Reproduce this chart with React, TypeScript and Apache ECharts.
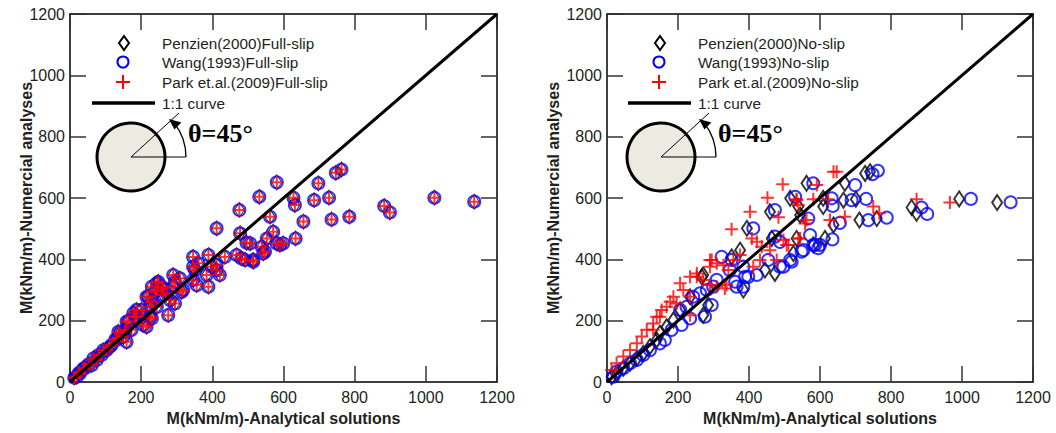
import React, { useEffect, useRef } from "react";
import * as echarts from "echarts";

// Full-slip condition: the three analytical solutions give nearly identical values
const fullSlipPoints: [number, number][] = [
  [12, 14], [19, 17], [25, 30], [28, 28], [38, 45], [42, 45], [52, 58], [61, 55], [66, 77], [75, 72],
  [80, 88], [89, 88], [94, 104], [103, 104], [112, 115], [117, 121], [128, 140], [131, 137], [136, 164],
  [140, 159], [150, 148], [155, 164], [155, 170], [159, 131], [159, 197], [164, 197], [173, 170],
  [178, 224], [183, 213], [187, 235], [187, 213], [201, 235], [206, 213], [206, 186], [215, 180],
  [215, 278], [220, 278], [225, 213], [225, 245], [230, 262], [230, 207], [230, 311], [239, 294],
  [244, 300], [244, 322], [244, 245], [248, 327], [258, 311], [262, 284], [262, 305], [272, 289],
  [276, 218], [281, 267], [290, 311], [290, 349], [295, 256], [295, 327], [309, 338], [314, 294],
  [318, 300], [346, 333], [346, 376], [346, 408], [351, 365], [356, 316], [361, 387], [384, 349],
  [389, 311], [389, 414], [398, 376], [412, 365], [412, 381], [412, 501], [421, 349], [435, 408],
  [468, 414], [476, 561], [478, 485], [482, 403], [492, 398], [496, 454], [506, 452], [515, 398],
  [515, 392], [532, 604], [539, 441], [543, 419], [548, 425], [553, 468], [562, 539], [571, 490],
  [581, 452], [581, 651], [590, 447], [599, 452], [628, 601], [632, 577], [634, 468], [656, 523],
  [686, 593], [698, 648], [728, 601], [735, 530], [747, 682], [763, 693], [785, 539], [883, 574],
  [899, 553], [1024, 601], [1136, 588],
];

// No-slip condition
const penzienNoSlip: [number, number][] = [
  [13, 17], [27, 28], [46, 45], [65, 61], [84, 77], [102, 93], [121, 115], [140, 137], [149, 159],
  [168, 180], [187, 202], [206, 235], [234, 278], [267, 343], [271, 349], [271, 218], [285, 251],
  [351, 408], [375, 430], [384, 300], [394, 501], [445, 365], [459, 555], [464, 468], [473, 354],
  [516, 599], [525, 419], [534, 468], [539, 572], [544, 544], [562, 648], [581, 447], [609, 599],
  [609, 572], [614, 468], [638, 512], [666, 593], [670, 648], [701, 596], [711, 528], [727, 680],
  [741, 686], [760, 533], [858, 569], [872, 550], [992, 597], [1099, 585],
];

const wangNoSlip: [number, number][] = [
  [18, 17], [27, 34], [46, 45], [65, 61], [84, 72], [102, 88], [121, 104], [149, 126], [163, 137],
  [182, 170], [206, 235], [210, 186], [224, 245], [234, 207], [243, 278], [262, 289], [276, 213],
  [281, 300], [295, 251], [299, 311], [309, 333], [323, 408], [346, 365], [351, 398], [361, 327],
  [365, 311], [384, 311], [384, 376], [389, 343], [398, 343], [412, 501], [422, 349], [454, 398],
  [473, 474], [473, 561], [487, 376], [487, 457], [497, 376], [516, 398], [520, 392], [530, 604],
  [548, 425], [553, 430], [567, 533], [572, 479], [581, 648], [581, 447], [586, 447], [595, 436],
  [600, 447], [633, 599], [635, 465], [636, 574], [656, 519], [689, 593], [699, 642], [730, 597],
  [736, 528], [748, 678], [763, 689], [788, 536], [886, 569], [902, 548], [1025, 597], [1137, 586],
];

const parkNoSlip: [number, number][] = [
  [13, 39], [27, 61], [46, 83], [65, 104], [84, 126], [98, 148], [112, 170], [130, 170], [130, 191],
  [140, 213], [149, 213], [154, 235], [168, 245], [178, 262], [187, 278], [196, 256], [206, 322],
  [215, 300], [234, 278], [234, 218], [234, 343], [253, 343], [253, 354], [271, 333], [290, 316],
  [290, 376], [290, 398], [295, 398], [309, 387], [309, 311], [328, 381], [332, 305], [337, 316],
  [342, 365], [351, 498], [356, 398], [375, 414], [403, 555], [408, 468], [412, 376], [422, 457],
  [431, 398], [436, 441], [452, 601], [459, 430], [478, 398], [483, 537], [495, 645], [497, 463],
  [506, 447], [511, 447], [534, 593], [534, 596], [539, 577], [539, 468], [544, 468], [558, 517],
  [562, 528], [581, 596], [591, 642], [623, 596], [628, 528], [638, 686], [647, 686], [670, 539],
  [750, 572], [767, 550], [872, 596], [966, 585],
];

const oneToOneLine: [number, number][] = [[0, 0], [1200, 1200]];

const axisTicks = [0, 200, 400, 600, 800, 1000, 1200];

const leftLegendNames = ["Penzien(2000)Full-slip", "Wang(1993)Full-slip", "Park et.al.(2009)Full-slip", "1:1 curve"];
const rightLegendNames = ["Penzien(2000)No-slip", "Wang(1993)No-slip", "Park et.al.(2009)No-slip", "1:1 curve"];

const xAxisName = "M(kNm/m)-Analytical solutions";
const yAxisName = "M(kNm/m)-Numercial analyses";
const thetaLabel = "θ=45°";

const FONT = "Liberation Sans, Arial, Helvetica, sans-serif";
const TXT = "#231f20";
const PLUS = "path://M0,6H12M6,0V12";

function App() {
  const ref = useRef<HTMLDivElement>(null);

  useEffect(() => {
    if (!ref.current) return;
    const chart = echarts.init(ref.current, undefined, { renderer: "svg" });

    const grids = [
      { left: 70, top: 14, width: 427, height: 368 },
      { left: 607, top: 14, width: 426, height: 368 },
    ];

    const baseAxis = (grid: number, pos: string, labels: boolean, isX: boolean, name?: string, nameGap?: number) => ({
      type: "value",
      gridIndex: grid,
      position: pos,
      min: axisTicks[0],
      max: axisTicks[axisTicks.length - 1],
      interval: 200,
      name: name,
      nameLocation: "middle",
      nameGap: nameGap,
      nameMoveOverlap: false,
      nameRotate: isX ? 0 : 90,
      nameTextStyle: { fontFamily: FONT, fontWeight: "bold", fontSize: 16, color: TXT },
      axisLine: { show: true, onZero: false, lineStyle: { color: "#000", width: 1.5 } },
      axisTick: { show: true, inside: true, length: 16, lineStyle: { color: "#333", width: 1.5 } },
      splitLine: { show: false },
      axisLabel: {
        show: labels,
        color: TXT,
        fontSize: 16,
        fontFamily: FONT,
        margin: isX ? 7 : 5,
        formatter: (v: number) => String(v),
      },
    });

    const xAxes = [
      baseAxis(0, "bottom", true, true, xAxisName, 28),
      baseAxis(0, "top", false, true),
      baseAxis(1, "bottom", true, true, xAxisName, 28),
      baseAxis(1, "top", false, true),
    ];
    const yAxes = [
      baseAxis(0, "left", true, false, yAxisName, 36),
      baseAxis(0, "right", false, false),
      baseAxis(1, "left", true, false, yAxisName, 46),
      baseAxis(1, "right", false, false),
    ];

    const diamond = (data: [number, number][], axis: number, names: string[], bw: number) => ({
      type: "scatter",
      name: names[0],
      xAxisIndex: axis,
      yAxisIndex: axis,
      data,
      symbol: "diamond",
      symbolSize: [10, 15],
      itemStyle: { color: "rgba(0,0,0,0)", borderColor: "#000", borderWidth: bw },
      emphasis: { disabled: true },
    });
    const circle = (data: [number, number][], axis: number, names: string[]) => ({
      type: "scatter",
      name: names[1],
      xAxisIndex: axis,
      yAxisIndex: axis,
      data,
      symbol: "circle",
      symbolSize: 12,
      itemStyle: { color: "rgba(0,0,0,0)", borderColor: "#0000ff", borderWidth: 2 },
      emphasis: { disabled: true },
    });
    const plus = (data: [number, number][], axis: number, names: string[]) => ({
      type: "scatter",
      name: names[2],
      xAxisIndex: axis,
      yAxisIndex: axis,
      data,
      symbol: PLUS,
      symbolSize: 13,
      itemStyle: { color: "rgba(0,0,0,0)", borderColor: "#ff0000", borderWidth: 2 },
      emphasis: { disabled: true },
    });
    const line = (axis: number, names: string[]) => ({
      type: "line",
      name: names[3],
      xAxisIndex: axis,
      yAxisIndex: axis,
      data: oneToOneLine,
      symbol: "none",
      lineStyle: { color: "#000", width: 3 },
      z: 5,
      emphasis: { disabled: true },
    });

    const legendGraphic = (dx: number, names: string[]) => {
      const tx = 162 + dx;
      const els: any[] = [
        { type: "polygon", shape: { points: [[124 + dx, 36], [129 + dx, 43], [124 + dx, 50], [119 + dx, 43]] }, style: { fill: "none", stroke: "#000", lineWidth: 2 } },
        { type: "circle", shape: { cx: 123 + dx, cy: 62, r: 5.5 }, style: { fill: "none", stroke: "#0000ff", lineWidth: 2 } },
        { type: "line", shape: { x1: 116 + dx, y1: 82, x2: 130 + dx, y2: 82 }, style: { stroke: "#ff0000", lineWidth: 2 } },
        { type: "line", shape: { x1: 123 + dx, y1: 75, x2: 123 + dx, y2: 89 }, style: { stroke: "#ff0000", lineWidth: 2 } },
        { type: "line", shape: { x1: 92 + dx, y1: 103, x2: 155 + dx, y2: 103 }, style: { stroke: "#000", lineWidth: 3.5 } },
      ];
      const ys = [43, 62, 82, 103];
      names.forEach((n, i) => {
        els.push({ type: "text", x: tx, y: ys[i], style: { text: n, fontFamily: FONT, fontSize: 15.3, fill: TXT, verticalAlign: "middle", align: "left" } });
      });
      return els;
    };

    const thetaGraphic = (dx: number) => {
      const cx = 131 + dx, cy = 157;
      const s = Math.SQRT1_2;
      const tipX = cx + 55 * s, tipY = cy - 55 * s;
      return [
        { type: "circle", shape: { cx, cy, r: 34 }, style: { fill: "#ecebe1", stroke: "#000", lineWidth: 3 } },
        { type: "line", shape: { x1: cx, y1: cy, x2: cx + 48, y2: cy - 44 }, style: { stroke: "#000", lineWidth: 1 } },
        { type: "line", shape: { x1: cx, y1: cy, x2: cx + 55, y2: cy }, style: { stroke: "#000", lineWidth: 1 } },
        { type: "arc", shape: { cx, cy, r: 55, startAngle: -Math.PI / 4 + 0.12, endAngle: 0, clockwise: true }, style: { stroke: "#000", lineWidth: 1.3, fill: "none" } },
        { type: "polygon", shape: { points: [[tipX - 1, tipY + 1], [tipX + 11.5, tipY + 4.5], [tipX + 4.5, tipY + 11.5]] }, style: { fill: "#000" } },
        { type: "text", x: 188 + dx, y: 133, style: { text: thetaLabel, fontFamily: "Liberation Serif, Times New Roman, serif", fontWeight: "bold", fontSize: 26, fill: "#000", verticalAlign: "middle" } },
      ];
    };

    chart.setOption({
      animation: false,
      backgroundColor: "#fff",
      grid: grids,
      xAxis: xAxes,
      yAxis: yAxes,
      series: [
        diamond(fullSlipPoints, 0, leftLegendNames, 1),
        circle(fullSlipPoints, 0, leftLegendNames),
        plus(fullSlipPoints, 0, leftLegendNames),
        line(0, leftLegendNames),
        diamond(penzienNoSlip, 2, rightLegendNames, 2),
        circle(wangNoSlip, 2, rightLegendNames),
        plus(parkNoSlip, 2, rightLegendNames),
        line(2, rightLegendNames),
      ],
      graphic: [
        ...legendGraphic(0, leftLegendNames),
        ...legendGraphic(536, rightLegendNames),
        ...thetaGraphic(0),
        ...thetaGraphic(530),
      ],
    });

    return () => chart.dispose();
  }, []);

  return <div ref={ref} style={{ position: "absolute", left: 0, top: 0, width: 1056, height: 433 }} />;
}

export default App;
